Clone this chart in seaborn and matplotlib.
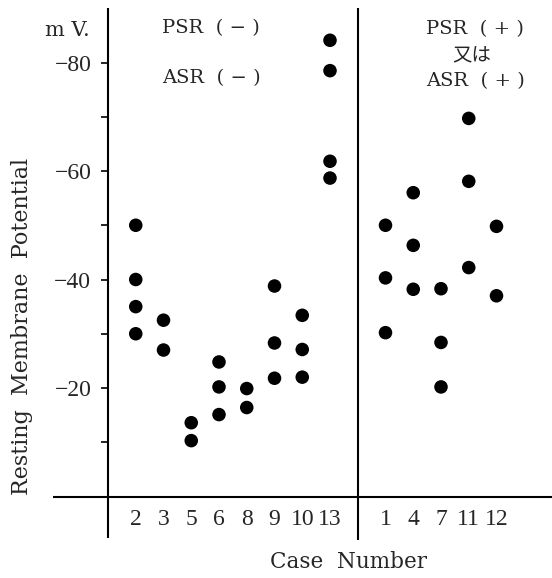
import matplotlib
matplotlib.use("Agg")
import matplotlib.pyplot as plt
import seaborn as sns
import pandas as pd

# ---- data (resting membrane potential, mV) ----
cases_neg = ["2", "3", "5", "6", "8", "9", "10", "13"]      # PSR(-) ASR(-)
cases_pos = ["1", "4", "7", "11", "12"]                     # PSR(+) or ASR(+)
values = {
    "2": [-50, -40, -35, -30],
    "3": [-32.5, -27],
    "5": [-13.6, -10.3],
    "6": [-24.8, -20.2, -15.1],
    "8": [-19.9, -16.4],
    "9": [-38.8, -28.3, -21.8],
    "10": [-33.4, -27.1, -22.0],
    "13": [-84.1, -78.5, -61.8, -58.7],
    "1": [-50.0, -40.3, -30.2],
    "4": [-56.0, -46.3, -38.2],
    "7": [-38.3, -28.4, -20.2],
    "11": [-69.7, -58.1, -42.2],
    "12": [-49.8, -37.0],
}
yticks_major = [-80, -60, -40, -20]
yticks_minor = [-70, -50, -30, -10]

# column positions: negative group, one empty slot (divider), positive group
order = cases_neg + [None] + cases_pos
pos = {c: i for i, c in enumerate(order) if c is not None}
divider = order.index(None)

rows = []
for c, vals in values.items():
    for v in vals:
        rows.append({"case": c, "pos": pos[c], "mv": v})
df = pd.DataFrame(rows)

sns.set_style("white")
plt.rcParams["font.family"] = ["Liberation Serif", "Noto Sans CJK JP"]

W, H = 552, 578
fig = plt.figure(figsize=(W / 100, H / 100), dpi=100)
ax = fig.add_axes([108 / W, 1 - 496.5 / H, 1 - 108 / W, (496.5 - 8) / H])

sns.scatterplot(data=df, x="pos", y="mv", ax=ax, color="black", s=95,
                edgecolor="none", legend=False, zorder=3)

ax.set_xlim(-1, len(order) + 1)
ax.set_ylim(0, -90.05)

for s in ["top", "right", "bottom", "left"]:
    ax.spines[s].set_visible(False)

lw = 1.5
# left axis (extended below the baseline)
ax.plot([-1, -1], [-90.05, 7.65], color="black", lw=lw, clip_on=False,
        solid_capstyle="butt")
# divider
ax.plot([divider, divider], [-90.05, 8.0], color="black", lw=lw,
        clip_on=False, solid_capstyle="butt")
# baseline
ax.plot([-2.98, len(order) + 1], [0, 0], color="black", lw=lw,
        clip_on=False, solid_capstyle="butt")

ax.set_yticks(yticks_major)
ax.set_yticklabels([f"\u2212{abs(t)}" for t in yticks_major])
ax.set_yticks(yticks_minor, minor=True)
ax.tick_params(axis="y", which="both", direction="out", length=5, width=1.2,
               color="black", pad=7, labelsize=17, left=True)
ax.tick_params(axis="y", which="minor", length=5)

xt = [pos[c] for c in cases_neg + cases_pos]
ax.set_xticks(xt)
ax.set_xticklabels(cases_neg + cases_pos)
ax.tick_params(axis="x", length=0, pad=9, labelsize=17)

ax.set_xlabel("")
ax.set_ylabel("")

def px(x, y):
    return x / W, 1 - y / H

serif = ["DejaVu Serif"]
fig.text(*px(22, 326), "Resting  Membrane  Potential", rotation=90,
         ha="center", va="center", fontsize=16, family=serif)
fig.text(*px(348, 562), "Case  Number", ha="center", va="center",
         fontsize=15.5, family=serif)
fig.text(*px(67, 30), "m V.", ha="center", va="center", fontsize=15,
         family=serif)
fig.text(*px(211, 28), "PSR  ( \u2212 )", ha="center", va="center",
         fontsize=14, family=serif)
fig.text(*px(211, 78), "ASR  ( \u2212 )", ha="center", va="center",
         fontsize=14, family=serif)
fig.text(*px(475, 29), "PSR  ( + )", ha="center", va="center",
         fontsize=14, family=serif)
fig.text(*px(472, 56), "又は", ha="center", va="center", fontsize=14,
         family=["Noto Sans CJK JP"])
fig.text(*px(475, 81), "ASR  ( + )", ha="center", va="center",
         fontsize=14, family=serif)

fig.savefig("out.png", dpi=100)
